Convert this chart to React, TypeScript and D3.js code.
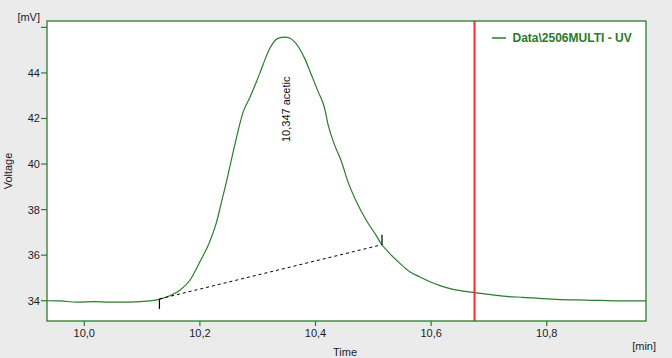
import React from "react";
import * as d3 from "d3";

const times = [9.9355, 9.958, 9.987, 10.018, 10.044, 10.079, 10.114, 10.131, 10.148, 10.166, 10.183, 10.2, 10.217, 10.229, 10.2375, 10.246, 10.255, 10.263, 10.275, 10.286, 10.298, 10.309, 10.321, 10.335, 10.347, 10.356, 10.37, 10.381, 10.393, 10.4045, 10.4157, 10.4218, 10.433, 10.445, 10.456, 10.468, 10.4795, 10.491, 10.5025, 10.514, 10.528, 10.546, 10.563, 10.58, 10.598, 10.6155, 10.638, 10.6724, 10.6956, 10.73, 10.759, 10.8166, 10.868, 10.9376, 10.9717];
const voltages = [34.0, 33.99, 33.94, 33.96, 33.94, 33.94, 33.99, 34.07, 34.22, 34.47, 34.91, 35.71, 36.59, 37.47, 38.35, 39.23, 40.25, 41.13, 42.3, 42.9, 43.62, 44.35, 45.08, 45.52, 45.57, 45.52, 45.16, 44.65, 43.91, 43.18, 42.45, 41.72, 40.84, 40.1, 39.23, 38.5, 37.91, 37.4, 36.96, 36.49, 36.08, 35.64, 35.27, 35.05, 34.83, 34.66, 34.5, 34.37, 34.29, 34.19, 34.15, 34.06, 34.03, 33.99, 33.99];

const xTicks = [10.0, 10.2, 10.4, 10.6, 10.8];
const xTickLabels = ["10,0", "10,2", "10,4", "10,6", "10,8"];
const yTicks = [34, 36, 38, 40, 42, 44, 46];
const yTickLabels = ["34", "36", "38", "40", "42", "44", ""];

const baselineTimes = [10.13, 10.515];
const baselineValues = [34.08, 36.46];
const peakTime = 10.347;
const peakLabel = "10,347 acetic";
const markerTime = 10.675;
const seriesName = "Data\\2506MULTI - UV";

const W = 672;
const H = 358;
const plot = { left: 47, right: 646, top: 21, bottom: 321 };
const green = "#2c7c2c";
const font = "'Liberation Sans', Arial, sans-serif";
const textColor = "#1b1b28";

export default function App() {
  const x = d3.scaleLinear().domain([9.9355, 10.9717]).range([plot.left, plot.right]);
  const y = d3.scaleLinear().domain([33.11, 46.28]).range([plot.bottom, plot.top]);
  const data = times.map((t, i) => [t, voltages[i]] as [number, number]);
  const line = d3
    .line<[number, number]>()
    .x((d) => x(d[0]))
    .y((d) => y(d[1]))
    .curve(d3.curveMonotoneX);

  const bx0 = x(baselineTimes[0]);
  const by0 = y(baselineValues[0]);
  const bx1 = x(baselineTimes[1]);
  const by1 = y(baselineValues[1]);
  const markLen = y(0) - y(0.44);

  return (
    <svg
      width={W}
      height={H}
      style={{ position: "absolute", left: 0, top: 0, display: "block" }}
      fontFamily={font}
    >
      <rect x={0} y={0} width={W} height={H} fill="#ebebeb" />
      <defs>
        <clipPath id="plotClip">
          <rect x={plot.left} y={plot.top} width={plot.right - plot.left} height={plot.bottom - plot.top} />
        </clipPath>
      </defs>
      <rect
        x={plot.left}
        y={plot.top}
        width={plot.right - plot.left}
        height={plot.bottom - plot.top}
        fill="#ffffff"
      />
      <g clipPath="url(#plotClip)">
        <path d={line(data) || ""} fill="none" stroke={green} strokeWidth={1.2} />
        <line x1={bx0} y1={by0} x2={bx1} y2={by1} stroke="#000" strokeWidth={1} strokeDasharray="3,3" />
        <line x1={bx0} y1={by0} x2={bx0} y2={by0 + markLen} stroke="#000" strokeWidth={1.2} />
        <line x1={bx1} y1={by1} x2={bx1} y2={by1 - markLen} stroke="#000" strokeWidth={1.2} />
        <line
          x1={x(markerTime)}
          x2={x(markerTime)}
          y1={plot.top}
          y2={plot.bottom}
          stroke="#ff2a2a"
          strokeWidth={2}
        />
      </g>
      <text
        transform={`translate(${x(peakTime) + 5},142) rotate(-90)`}
        fontSize={11}
        fill="#111"
        textAnchor="start"
      >
        {peakLabel}
      </text>
      <rect
        x={plot.left}
        y={plot.top}
        width={plot.right - plot.left}
        height={plot.bottom - plot.top}
        fill="none"
        stroke={green}
        strokeWidth={1.3}
      />
      {xTicks.map((t, i) => (
        <g key={"xt" + i}>
          <line x1={x(t)} x2={x(t)} y1={plot.bottom} y2={plot.bottom + 5} stroke={green} strokeWidth={1.2} />
          <text x={x(t)} y={337} fontSize={11} textAnchor="middle" fill={textColor}>
            {xTickLabels[i]}
          </text>
        </g>
      ))}
      {yTicks.map((v, i) => (
        <g key={"yt" + i}>
          <line x1={plot.left - 6} x2={plot.left} y1={y(v)} y2={y(v)} stroke={green} strokeWidth={1.2} />
          <text x={40} y={y(v) + 4} fontSize={11} textAnchor="end" fill={textColor}>
            {yTickLabels[i]}
          </text>
        </g>
      ))}
      <text x={40} y={21} fontSize={11} textAnchor="end" fill={textColor}>
        [mV]
      </text>
      <text x={656} y={350} fontSize={11} textAnchor="end" fill={textColor}>
        [min]
      </text>
      <text x={345} y={356} fontSize={11} textAnchor="middle" fill={textColor}>
        Time
      </text>
      <text transform="translate(12,171) rotate(-90)" fontSize={11} textAnchor="middle" fill={textColor}>
        Voltage
      </text>
      <line x1={492} x2={506} y1={38} y2={38} stroke={green} strokeWidth={1.5} />
      <text x={512.5} y={42} fontSize={12} fontWeight="bold" fill="#2a7a2a">
        {seriesName}
      </text>
    </svg>
  );
}
